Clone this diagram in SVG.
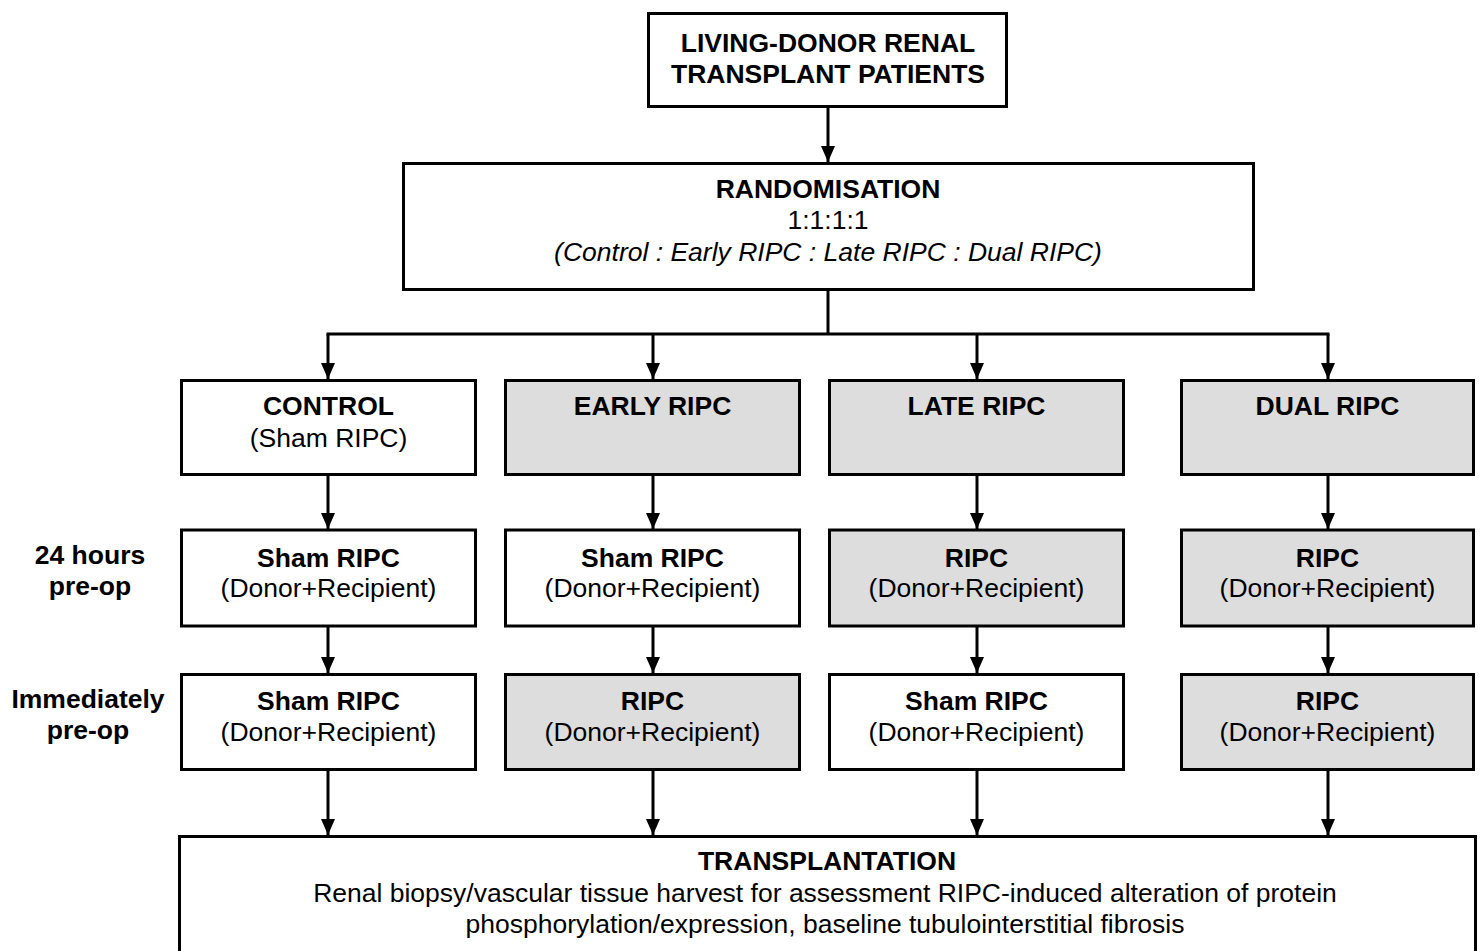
<svg xmlns="http://www.w3.org/2000/svg" width="1480" height="951" viewBox="0 0 1480 951">
<style>
.box{fill:#fff;stroke:#000;stroke-width:3}
.grey{fill:#dddddd}
text{font-family:"Liberation Sans",Arial,sans-serif;font-size:26.5px;text-anchor:middle;fill:#000}
.b{font-weight:bold}
.i{font-style:italic}
.c{stroke:#000;stroke-width:3;fill:none}
</style>
<defs>
<marker id="ah" markerUnits="userSpaceOnUse" markerWidth="16" markerHeight="14" refX="16" refY="7" orient="auto" viewBox="0 0 16 14">
<polygon points="0,0 16,7 0,14" fill="#000"/>
</marker>
</defs>
<rect width="1480" height="951" fill="#fff"/>
<g id="connectors">
<path class="c" d="M828,107 V162" marker-end="url(#ah)"/>
<path class="c" d="M828,290 V334"/>
<path class="c" d="M326.5,334 H1329.5"/>
<path class="c" d="M328,334 V379" marker-end="url(#ah)"/>
<path class="c" d="M653,334 V379" marker-end="url(#ah)"/>
<path class="c" d="M977,334 V379" marker-end="url(#ah)"/>
<path class="c" d="M1328,334 V379" marker-end="url(#ah)"/>
<path class="c" d="M328,475 V529" marker-end="url(#ah)"/>
<path class="c" d="M653,475 V529" marker-end="url(#ah)"/>
<path class="c" d="M977,475 V529" marker-end="url(#ah)"/>
<path class="c" d="M1328,475 V529" marker-end="url(#ah)"/>
<path class="c" d="M328,627 V673" marker-end="url(#ah)"/>
<path class="c" d="M653,627 V673" marker-end="url(#ah)"/>
<path class="c" d="M977,627 V673" marker-end="url(#ah)"/>
<path class="c" d="M1328,627 V673" marker-end="url(#ah)"/>
<path class="c" d="M328,771 V835" marker-end="url(#ah)"/>
<path class="c" d="M653,771 V835" marker-end="url(#ah)"/>
<path class="c" d="M977,771 V835" marker-end="url(#ah)"/>
<path class="c" d="M1328,771 V835" marker-end="url(#ah)"/>
</g>
<g id="patients">
<rect class="box" x="648.5" y="13.5" width="358" height="93"/>
<text class="b" x="828" y="52">LIVING-DONOR RENAL</text>
<text class="b" x="828" y="83">TRANSPLANT PATIENTS</text>
</g>
<g id="randomisation">
<rect class="box" x="403.5" y="163.5" width="850" height="126"/>
<text class="b" x="828" y="198">RANDOMISATION</text>
<text x="828" y="229">1:1:1:1</text>
<text class="i" x="828" y="261">(Control : Early RIPC : Late RIPC : Dual RIPC)</text>
</g>
<g id="label-24h">
<text class="b" x="90" y="564">24 hours</text>
<text class="b" x="90" y="595">pre-op</text>
</g>
<g id="label-immediately">
<text class="b" x="88" y="708">Immediately</text>
<text class="b" x="88" y="739">pre-op</text>
</g>
<g id="control">
<rect class="box" x="181.5" y="380.5" width="294" height="94"/>
<text class="b" x="328.5" y="415">CONTROL</text>
<text x="328.5" y="447">(Sham RIPC)</text>
</g>
<g id="early">
<rect class="box grey" x="505.5" y="380.5" width="294" height="94"/>
<text class="b" x="652.5" y="415">EARLY RIPC</text>
</g>
<g id="late">
<rect class="box grey" x="829.5" y="380.5" width="294" height="94"/>
<text class="b" x="976.5" y="415">LATE RIPC</text>
</g>
<g id="dual">
<rect class="box grey" x="1181.5" y="380.5" width="292" height="94"/>
<text class="b" x="1327.5" y="415">DUAL RIPC</text>
</g>
<g id="control-24h">
<rect class="box" x="181.5" y="530" width="294" height="96"/>
<text class="b" x="328.5" y="567">Sham RIPC</text>
<text x="328.5" y="597">(Donor+Recipient)</text>
</g>
<g id="early-24h">
<rect class="box" x="505.5" y="530" width="294" height="96"/>
<text class="b" x="652.5" y="567">Sham RIPC</text>
<text x="652.5" y="597">(Donor+Recipient)</text>
</g>
<g id="late-24h">
<rect class="box grey" x="829.5" y="530" width="294" height="96"/>
<text class="b" x="976.5" y="567">RIPC</text>
<text x="976.5" y="597">(Donor+Recipient)</text>
</g>
<g id="dual-24h">
<rect class="box grey" x="1181.5" y="530" width="292" height="96"/>
<text class="b" x="1327.5" y="567">RIPC</text>
<text x="1327.5" y="597">(Donor+Recipient)</text>
</g>
<g id="control-imm">
<rect class="box" x="181.5" y="674.5" width="294" height="95"/>
<text class="b" x="328.5" y="710">Sham RIPC</text>
<text x="328.5" y="741">(Donor+Recipient)</text>
</g>
<g id="early-imm">
<rect class="box grey" x="505.5" y="674.5" width="294" height="95"/>
<text class="b" x="652.5" y="710">RIPC</text>
<text x="652.5" y="741">(Donor+Recipient)</text>
</g>
<g id="late-imm">
<rect class="box" x="829.5" y="674.5" width="294" height="95"/>
<text class="b" x="976.5" y="710">Sham RIPC</text>
<text x="976.5" y="741">(Donor+Recipient)</text>
</g>
<g id="dual-imm">
<rect class="box grey" x="1181.5" y="674.5" width="292" height="95"/>
<text class="b" x="1327.5" y="710">RIPC</text>
<text x="1327.5" y="741">(Donor+Recipient)</text>
</g>
<g id="transplantation">
<rect class="box" x="179.5" y="836.5" width="1296" height="200"/>
<text class="b" x="827" y="870">TRANSPLANTATION</text>
<text x="825" y="902">Renal biopsy/vascular tissue harvest for assessment RIPC-induced alteration of protein</text>
<text x="825" y="933">phosphorylation/expression, baseline tubulointerstitial fibrosis</text>
</g>
</svg>
